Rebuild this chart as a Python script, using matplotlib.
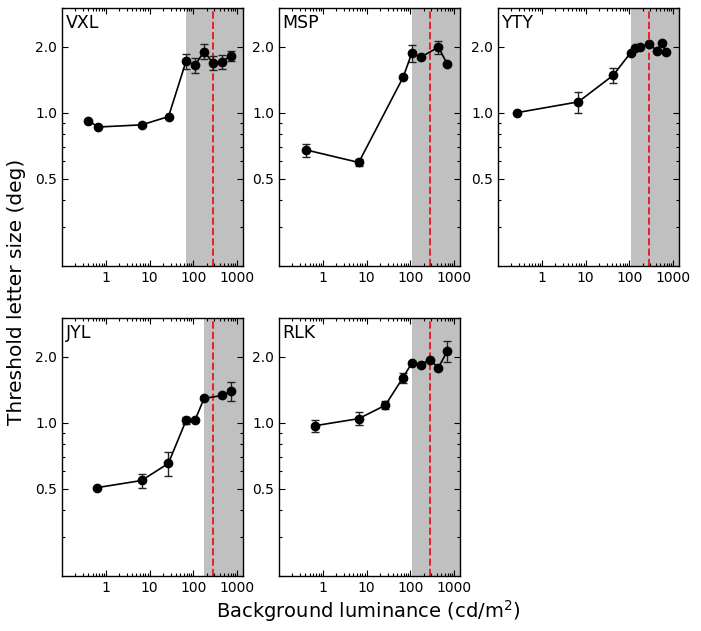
import matplotlib
matplotlib.use("Agg")
import matplotlib.pyplot as plt
from matplotlib.ticker import LogLocator, FixedLocator, FixedFormatter, NullFormatter
import numpy as np

# luminance (cd/m^2), threshold letter size (deg), error (deg)
vxl_x = [0.40, 0.66, 6.6, 27, 68, 109, 175, 276, 446, 716]
vxl_y = [0.92, 0.86, 0.88, 0.96, 1.72, 1.65, 1.90, 1.69, 1.71, 1.815]
vxl_err = [0, 0, 0, 0, 0.14, 0.13, 0.15, 0.12, 0.13, 0.10]

msp_x = [0.42, 6.6, 68, 107, 172, 433, 692]
msp_y = [0.676, 0.593, 1.45, 1.866, 1.79, 1.99, 1.665]
msp_err = [0.047, 0.02, 0, 0.16, 0, 0.14, 0]

yty_x = [0.27, 6.8, 42.5, 107, 137, 172, 280, 425, 543, 692]
yty_y = [1.0, 1.12, 1.48, 1.88, 1.98, 2.0, 2.05, 1.92, 2.08, 1.89]
yty_err = [0, 0.12, 0.11, 0, 0, 0, 0, 0, 0, 0]

jyl_x = [0.645, 6.56, 26.7, 68, 109, 175, 445, 716]
jyl_y = [0.506, 0.545, 0.652, 1.025, 1.03, 1.29, 1.33, 1.39]
jyl_err = [0, 0.04, 0.08, 0.04, 0, 0, 0, 0.14]

rlk_x = [0.67, 6.58, 26.6, 67, 107, 172, 275, 433, 692]
rlk_y = [0.969, 1.043, 1.2, 1.6, 1.87, 1.835, 1.94, 1.78, 2.12]
rlk_err = [0.06, 0.07, 0.05, 0.08, 0, 0, 0, 0, 0.23]

subjects = ["VXL", "MSP", "YTY", "JYL", "RLK"]
shade_start = [69, 110, 107, 175, 110]
ref_lum = 275

series = [
    (vxl_x, vxl_y, vxl_err),
    (msp_x, msp_y, msp_err),
    (yty_x, yty_y, yty_err),
    (jyl_x, jyl_y, jyl_err),
    (rlk_x, rlk_y, rlk_err),
]

fig = plt.figure(figsize=(7.01, 6.31), dpi=100)

W, H = 701, 631
col_left = [62, 279, 498]
row_top = [8, 318]
ax_w, ax_h = 181, 258

for i, (name, (x, y, err)) in enumerate(zip(subjects, series)):
    r, c = divmod(i, 3)
    rect = [col_left[c] / W, 1 - (row_top[r] + ax_h) / H, ax_w / W, ax_h / H]
    ax = fig.add_axes(rect)
    ax.set_xscale("log")
    ax.set_yscale("log")

    # shaded high-luminance range and reference luminance
    ax.axvspan(shade_start[i], 5000, color="#c0c0c0", lw=0, zorder=0)
    ax.axvline(ref_lum, color="#e8202a", ls="--", lw=1.4, zorder=1)

    x = np.array(x)
    y = np.array(y)
    err = np.array(err)
    ax.plot(x, y, "-o", color="black", lw=1.2, ms=6, zorder=3)
    m = err > 0
    ax.errorbar(x[m], y[m], yerr=err[m], fmt="none", ecolor="#222222",
                elinewidth=1, capsize=3, capthick=1, zorder=2)

    ax.set_xlim(0.1, 1350)
    ax.set_ylim(0.2, 3.0)
    ax.xaxis.set_major_locator(FixedLocator([1, 10, 100, 1000]))
    ax.xaxis.set_major_formatter(FixedFormatter(["1", "10", "100", "1000"]))
    ax.xaxis.set_minor_locator(LogLocator(base=10, subs=np.arange(2, 10)))
    ax.xaxis.set_minor_formatter(NullFormatter())
    ax.yaxis.set_major_locator(FixedLocator([0.5, 1.0, 2.0]))
    ax.yaxis.set_major_formatter(FixedFormatter(["0.5", "1.0", "2.0"]))
    ax.yaxis.set_minor_locator(LogLocator(base=10, subs=np.arange(2, 10)))
    ax.yaxis.set_minor_formatter(NullFormatter())

    ax.tick_params(which="both", direction="in", top=True, right=True,
                   labelsize=10, width=0.8)
    ax.tick_params(which="major", length=4.5)
    ax.tick_params(which="minor", length=2.2)
    for sp in ax.spines.values():
        sp.set_linewidth(1.0)

    ax.text(0.02, 0.975, name, transform=ax.transAxes, ha="left", va="top",
            fontsize=12.5)

fig.text(0.024, 0.537, "Threshold letter size (deg)", rotation=90,
         ha="center", va="center", fontsize=14.5)
fig.text(0.525, 0.032, "Background luminance (cd/m$^2$)",
         ha="center", va="center", fontsize=14)

fig.savefig("out.png", dpi=100)
